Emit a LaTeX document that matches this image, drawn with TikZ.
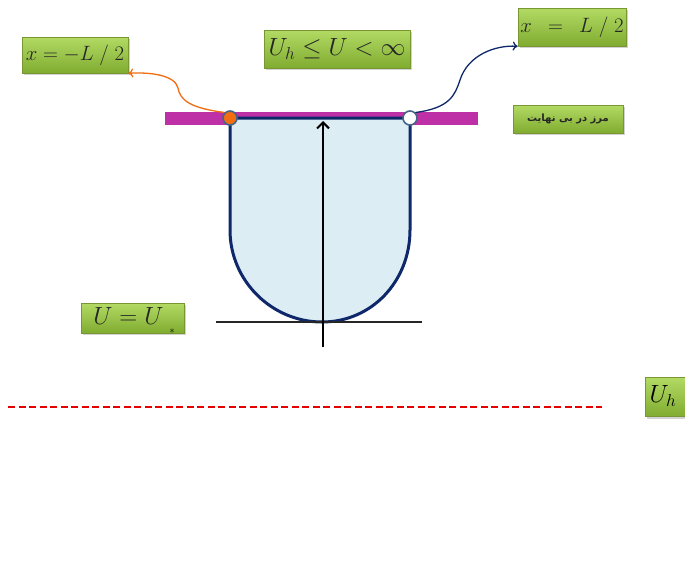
\documentclass[tikz,border=0pt]{standalone}
\usepackage{fontspec}
\newfontfamily\arabicfont[Script=Arabic]{DejaVu Sans}
\TeXXeTstate=1
\usetikzlibrary{shadows,arrows.meta}
\definecolor{gtop}{RGB}{178,218,100}
\definecolor{gbot}{RGB}{128,172,48}
\definecolor{gedge}{RGB}{120,150,50}
\definecolor{magbar}{RGB}{190,48,165}
\definecolor{navy}{RGB}{14,40,105}
\definecolor{wellfill}{RGB}{220,237,244}
\definecolor{orng}{RGB}{242,108,18}
\definecolor{ringc}{RGB}{70,100,135}
\tikzset{
  greenbox/.style={rectangle, draw=gedge, line width=0.6pt, top color=gtop, bottom color=gbot,
    drop shadow={opacity=0.35, shadow xshift=1.5pt, shadow yshift=-2pt}, inner sep=0pt, text=black!85},
  endpt/.style={circle, draw=ringc, line width=1.6pt, minimum size=14pt, inner sep=0pt},
}
\begin{document}
\begin{tikzpicture}[x=1pt,y=-1pt]
\clip (0,0) rectangle (685,568);
\fill[white] (0,0) rectangle (685,568);
% boxes
\node[greenbox, minimum width=106pt, minimum height=36pt] (xl) at (75,55)
  {\fontsize{22}{24}\selectfont $x=-L\;/\;2$};
\node[greenbox, minimum width=146pt, minimum height=38pt] (uh) at (337,49)
  {\fontsize{26}{30}\selectfont $U_h \le U < \infty$};
\node[greenbox, minimum width=108pt, minimum height=38pt] (xr) at (572,27)
  {\fontsize{20}{24}\selectfont $x\;\:=\;\:L\;/\;2$};
\node[greenbox, minimum width=110pt, minimum height=28pt] (fa) at (568,119)
  {\arabicfont\bfseries\fontsize{10}{12}\selectfont\beginR مرز در بی نهایت\endR};
\node[greenbox, minimum width=103pt, minimum height=30pt] (us) at (133,318)
  {\fontsize{26}{28}\selectfont $U=U\phantom{_{*}}$};
\node (star) at (172,331) {$*$};
\node[greenbox, minimum width=50pt, minimum height=39pt, anchor=west] (uhr) at (645,397) {};
\node[anchor=west] (uhrt) at (646,396) {\fontsize{26}{28}\selectfont $U_h$};
% magenta bar
\fill[magbar] (165,112) rectangle (478,125);
% well
\draw[navy, line width=3pt, fill=wellfill, line join=round]
  (230,118) -- (230,230) .. controls (230,281) and (272,322) .. (322,322)
  .. controls (372,322) and (410,281) .. (410,230) -- (410,118) -- cycle;
% axes
\coordinate (hl) at (216,322);
\coordinate (hr) at (422,322);
\draw[black!85, line width=1.5pt] (hl) -- (hr);
\coordinate (ab) at (323,347);
\coordinate (at) at (323,121);
\draw[black, line width=2pt, -{Straight Barb[length=6pt,width=12pt,line width=2pt]}] (ab) -- (at);
% end points
\node[endpt, fill=orng] (pl) at (230,118) {};
\node[endpt, fill=white] (pr) at (410,118) {};
% curved connectors
\draw[orng, line width=1.3pt, -{To[length=5pt,width=9pt]}]
  (pl.north west) .. controls (190,108) and (180,100) .. (178,88)
  .. controls (175,75) and (150,72) .. (xl.south east);
\draw[navy, line width=1.3pt, -{To[length=5pt,width=9pt]}]
  (pr.north east) .. controls (450,108) and (455,95) .. (460,80)
  .. controls (468,55) and (495,45) .. (xr.south west);
% red dashed
\coordinate (rl) at (8,407);
\coordinate (rr) at (602,407);
\draw[red!90!black, line width=1.6pt, dash pattern=on 7pt off 3.5pt] (rl) -- (rr);
\end{tikzpicture}
\end{document}
